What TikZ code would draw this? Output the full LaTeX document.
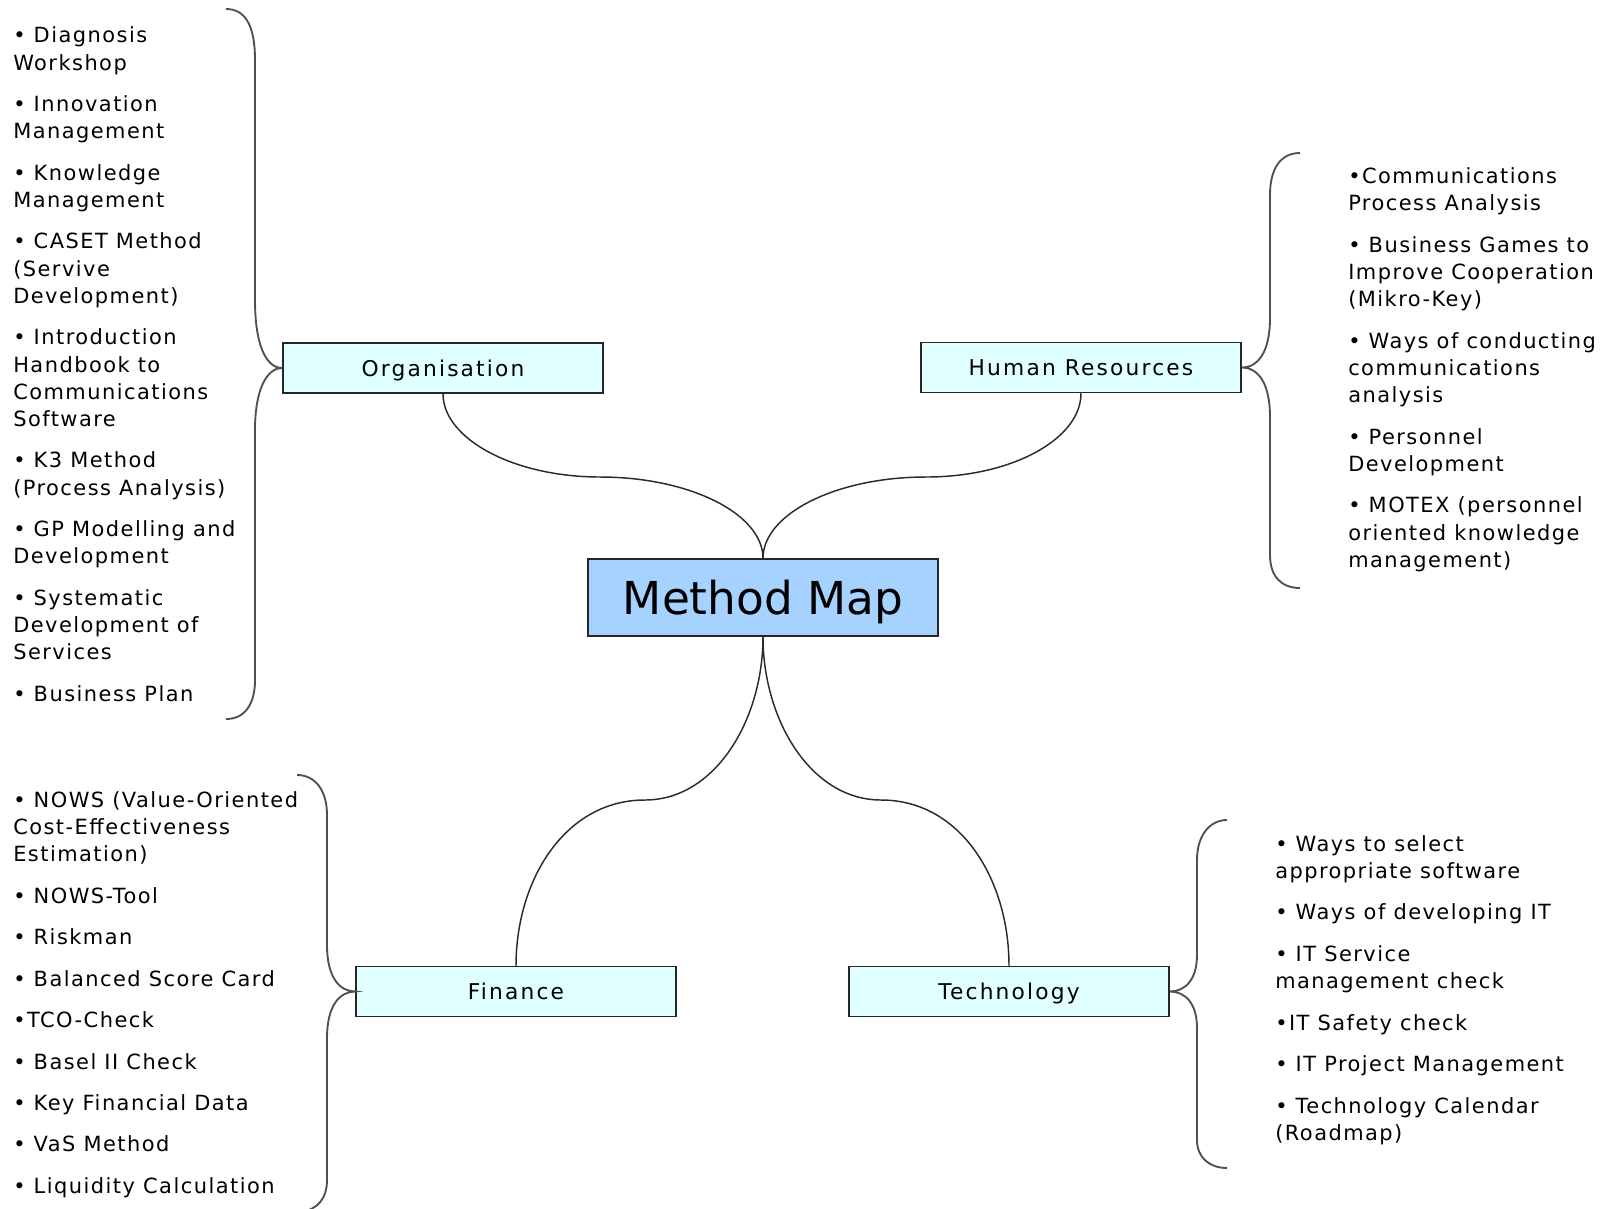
\documentclass[tikz,border=0pt]{standalone}
\usepackage{fontspec}
\newfontfamily\lfont[LetterSpace=7]{DejaVu Sans}
\newfontfamily\bfontx[LetterSpace=10]{DejaVu Sans}
\newfontfamily\tfont{DejaVu Sans}
\definecolor{mapblue}{HTML}{A6D2FF}
\definecolor{boxcyan}{HTML}{E0FFFF}
\definecolor{bracegray}{HTML}{505050}
\definecolor{linkgray}{HTML}{2B2B2B}
\tikzset{
  branch/.style={draw=black!85, line width=1.1pt, fill=boxcyan, minimum width=240pt,
    minimum height=37.5pt, inner sep=0pt, text=black, text depth=0pt,
    font=\bfontx\fontsize{16.3}{18}\selectfont},
  centre/.style={draw=black!85, line width=1.1pt, fill=mapblue, minimum width=262.5pt,
    minimum height=57.75pt, inner sep=0pt, text=black, text depth=0pt,
    font=\tfont\fontsize{34}{36}\selectfont},
  itemlist/.style={anchor=north west, inner sep=0pt, align=left, text=black,
    font=\lfont\fontsize{15.7}{20.4}\selectfont},
  link/.style={draw=linkgray, line width=1.1pt},
  brace/.style={draw=bracegray, line width=1.4pt}
}
\begin{document}
\begin{tikzpicture}[x=0.75pt, y=-0.75pt]
\useasboundingbox (0,0) rectangle (1600,1208);

% main nodes
\node[centre] (mm) at (763,597.5) {Method Map};
\node[branch] (org) at (443,368) {Organisation};
\node[branch] (hr) at (1081,367.5) {Human Resources};
\node[branch] (fin) at (516,991.5) {Finance};
\node[branch] (tech) at (1009,991.5) {Technology};

% item lists
\node[itemlist] (orglist) at (13,26.7) {\rule{0pt}{12pt}• Diagnosis\\Workshop\\[10.7pt]
• Innovation\\Management\\[10.7pt]
• Knowledge\\Management\\[10.7pt]
• CASET Method\\(Servive\\Development)\\[10.7pt]
• Introduction\\Handbook to\\Communications\\Software\\[10.7pt]
• K3 Method\\(Process Analysis)\\[10.7pt]
• GP Modelling and\\Development\\[10.7pt]
• Systematic\\Development of\\Services\\[10.7pt]
• Business Plan};

\node[itemlist] (hrlist) at (1348,167.5) {\rule{0pt}{12pt}•Communications\\Process Analysis\\[10.7pt]
• Business Games to\\Improve Cooperation\\(Mikro-Key)\\[10.7pt]
• Ways of conducting\\communications\\analysis\\[10.7pt]
• Personnel\\Development\\[10.7pt]
• MOTEX (personnel\\oriented knowledge\\management)};

\node[itemlist] (finlist) at (13,791) {\rule{0pt}{12pt}• NOWS (Value-Oriented\\Cost-Effectiveness\\Estimation)\\[10.7pt]
• NOWS-Tool\\[10.7pt]
• Riskman\\[10.7pt]
• Balanced Score Card\\[10.7pt]
•TCO-Check\\[10.7pt]
• Basel II Check\\[10.7pt]
• Key Financial Data\\[10.7pt]
• VaS Method\\[10.7pt]
• Liquidity Calculation};

\node[itemlist] (techlist) at (1275,835) {\rule{0pt}{12pt}• Ways to select\\appropriate software\\[10.7pt]
• Ways of developing IT\\[10.7pt]
• IT Service\\management check\\[10.7pt]
•IT Safety check\\[10.7pt]
• IT Project Management\\[10.7pt]
• Technology Calendar\\(Roadmap)};

% connector bends
\coordinate (m1) at (600,477);
\coordinate (m2) at (926,477);
\coordinate (m3) at (645,800);
\coordinate (m4) at (881,800);

\draw[link] (org.south) .. controls (443,439) and (514,477) .. (m1)
  .. controls (690,477) and (763,514) .. (mm.north);
\draw[link] (hr.south) .. controls (1081,439) and (1012,477) .. (m2)
  .. controls (836,477) and (763,514) .. (mm.north);
\draw[link] (mm.south) .. controls (763,720) and (715,800) .. (m3)
  .. controls (565,800) and (516,880) .. (fin.north);
\draw[link] (mm.south) .. controls (763,720) and (811,800) .. (m4)
  .. controls (961,800) and (1009,880) .. (tech.north);

% brace ends
\coordinate (ob1) at (226,9);
\coordinate (ob2) at (226,719);
\coordinate (hb1) at (1300,153);
\coordinate (hb2) at (1300,588);
\coordinate (fb1) at (297,775);
\coordinate (fb2) at (300,1212);
\coordinate (tb1) at (1227,820);
\coordinate (tb2) at (1227,1168);

\draw[brace] (ob1) .. controls (245,9) and (255,25) .. (255,60) -- (255,300)
  .. controls (255,345) and (266,368) .. (org.west)
  .. controls (266,368) and (255,391) .. (255,430) -- (255,680)
  .. controls (255,704) and (245,719) .. (ob2);
\draw[brace] (hb1) .. controls (1281,153) and (1270,168) .. (1270,195) -- (1270,318)
  .. controls (1270,352) and (1258,367.5) .. (hr.east)
  .. controls (1258,367.5) and (1270,383) .. (1270,417) -- (1270,555)
  .. controls (1270,576) and (1281,588) .. (hb2);
\draw[brace] (fb1) .. controls (315,775) and (327,790) .. (327,815) -- (327,945)
  .. controls (327,978) and (340,991.5) .. (fin.west)
  .. controls (340,991.5) and (327,1005) .. (327,1038) -- (327,1180)
  .. controls (327,1198) and (318,1210) .. (fb2);
\draw[brace] (tb1) .. controls (1210,820) and (1197,835) .. (1197,860) -- (1197,955)
  .. controls (1197,980) and (1185,991.5) .. (tech.east)
  .. controls (1185,991.5) and (1197,1003) .. (1197,1028) -- (1197,1140)
  .. controls (1197,1158) and (1210,1168) .. (tb2);
\end{tikzpicture}
\end{document}
